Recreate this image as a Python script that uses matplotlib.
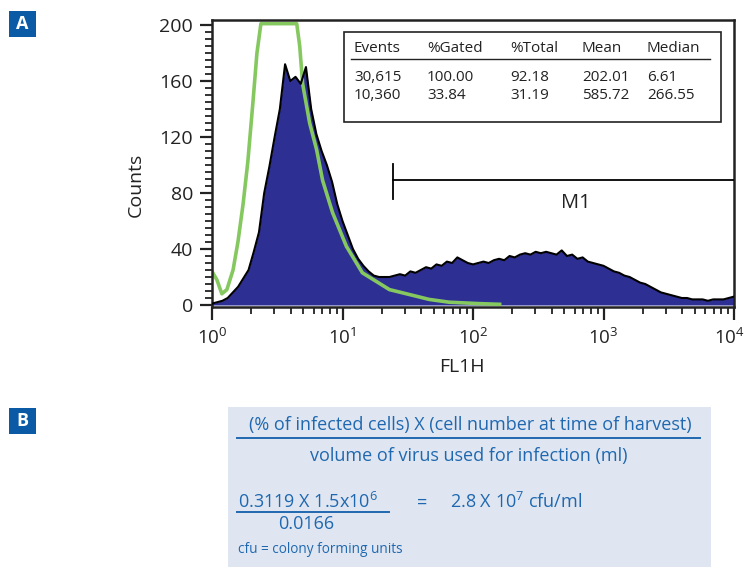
import numpy as np
import matplotlib.pyplot as plt
from matplotlib.patches import Rectangle
from matplotlib.lines import Line2D
from matplotlib.ticker import LogLocator, MultipleLocator
from matplotlib.transforms import ScaledTranslation

plt.rcParams['font.family'] = ['Open Sans', 'DejaVu Sans']
plt.rcParams['mathtext.fontset'] = 'custom'
plt.rcParams['mathtext.rm'] = 'Open Sans'
plt.rcParams['mathtext.it'] = 'Open Sans:italic'
plt.rcParams['mathtext.bf'] = 'Open Sans:bold'
plt.rcParams['mathtext.default'] = 'regular'

# infected cells, FL1H histogram (25 channels per decade, 10^0 .. 10^4)
infected_counts = [
    1, 2, 3, 5, 9, 13, 19, 25, 38, 52,
    80, 99, 120, 140, 172, 160, 163, 158, 170, 140,
    122, 110, 100, 88, 72, 60, 50, 40, 33, 28,
    24, 21, 20, 20, 20, 21, 22, 21, 24, 23,
    25, 27, 26, 29, 28, 31, 30, 34, 32, 30,
    29, 30, 31, 30, 32, 33, 32, 35, 34, 36,
    37, 36, 38, 37, 38, 37, 36, 39, 35, 36,
    33, 34, 31, 30, 29, 28, 26, 24, 23, 21,
    20, 18, 16, 15, 13, 11, 9, 8, 7, 6,
    5, 5, 4, 4, 4, 3, 4, 4, 4, 5,
    6,
]
infected_fl1h = np.logspace(0, 4, len(infected_counts))

# uninfected control (green trace), saturates at the top of the scale
control_fl1h = [1.0, 1.09, 1.19, 1.30, 1.45, 1.58, 1.73, 1.88, 2.06, 2.21,
                2.37, 4.46, 4.70, 4.95, 5.60, 6.33, 7.04, 8.39, 10.7, 14.2,
                22.9, 34.2, 46.1, 65.6, 111, 160]
control_counts = [24, 18, 8, 11, 25, 45, 72, 102, 145, 180,
                  201, 201, 185, 158, 130, 111, 89, 66, 42, 23,
                  11, 7, 4, 2, 1, 0.5]

gate_start = 24.5
gate_level = 89
gate_name = "M1"

table_header = ["Events", "%Gated", "%Total", "Mean", "Median"]
table_rows = [["30,615", "100.00", "92.18", "202.01", "6.61"],
              ["10,360", "33.84", "31.19", "585.72", "266.55"]]

navy = '#2D2F93'
green = '#86C860'
label_blue = '#0B5AA6'
text_blue = '#1F68B0'
box_fill = '#DFE6F1'

W, H = 747, 567
fig = plt.figure(figsize=(W / 100, H / 100), dpi=100)


def fx(px):
    return px / W


def fy(py):
    return 1 - py / H


ax = fig.add_axes([fx(212), fy(306.5), fx(734) - fx(212), fy(20) - fy(306.5)])

ax.fill_between(infected_fl1h, infected_counts, color=navy, lw=0, zorder=1)
ax.plot(control_fl1h, control_counts, color=green, lw=2.6, solid_joinstyle='round', zorder=2)
ax.plot(infected_fl1h, infected_counts, color='black', lw=1.5, zorder=3)

ax.set_xscale('log')
ax.set_xlim(1, 1e4)
ax.set_ylim(-1.07, 203.6)
ax.set_xticks([1, 10, 100, 1000, 10000])
ax.xaxis.set_minor_locator(LogLocator(base=10, subs=np.arange(2, 10), numticks=10))
ax.yaxis.set_major_locator(MultipleLocator(40))
ax.yaxis.set_minor_locator(MultipleLocator(5))
ax.tick_params(which='major', direction='out', length=9, width=1.6, labelsize=13.5, colors='#222222')
ax.tick_params(which='minor', direction='out', length=5, width=1.3, color='#222222')
ax.tick_params(axis='x', which='major', pad=6.5)
ax.tick_params(axis='y', which='major', pad=4.5, labelsize=14)
ax.tick_params(top=False, right=False)
for s in ax.spines.values():
    s.set_linewidth(1.8)
    s.set_color('#222222')

# last decade label sits a little left of its tick, as in the original
last = ax.xaxis.get_major_ticks()[-1].label1
last.set_transform(last.get_transform() + ScaledTranslation(-0.045, 0, fig.dpi_scale_trans))

ax.set_xlabel("FL1H", fontsize=14, color='#222222')
ax.xaxis.set_label_coords(0.479, -0.18)
ax.set_ylabel("Counts", fontsize=14, color='#222222')
ax.yaxis.set_label_coords(-0.146, 0.423)
ax.yaxis.label.set_verticalalignment('center')

# M1 gate marker
ax.plot([gate_start, gate_start], [76, 101], color='black', lw=1.3, zorder=4)
ax.plot([gate_start, 1e4], [gate_level, gate_level], color='black', lw=1.3, zorder=4)
ax.text(611, 73, gate_name, fontsize=14.5, ha='center', va='center', color='#222222', zorder=4)

# statistics table
ax.add_patch(Rectangle((0.2529, 0.644), 0.7221, 0.314, transform=ax.transAxes,
                       facecolor='white', edgecolor='#222222', lw=1.2, zorder=5))
col_x = [0.272, 0.4119, 0.5709, 0.7088, 0.8333]
for cx, h in zip(col_x, table_header):
    ax.text(cx, 0.902, h, transform=ax.transAxes, fontsize=11, va='center', color='#222222', zorder=6)
ax.plot([0.2663, 0.954], [0.864, 0.864], transform=ax.transAxes, color='#222222', lw=1.0, zorder=6)
for ry, row in zip([0.801, 0.735], table_rows):
    for cx, v in zip(col_x, row):
        ax.text(cx, ry, v, transform=ax.transAxes, fontsize=11, va='center', color='#222222', zorder=6)

# panel letters
for letter, top in [("A", 11), ("B", 408)]:
    fig.add_artist(Rectangle((fx(9), fy(top + 26)), fx(27), 26 / H, transform=fig.transFigure,
                             facecolor=label_blue, edgecolor='none'))
    fig.text(fx(22.5), fy(top + 13), letter, color='white', fontsize=13, fontweight='bold',
             ha='center', va='center')

# panel B: titre calculation
fs = 13
fig.add_artist(Rectangle((fx(228), fy(567)), fx(711) - fx(228), 160 / H, transform=fig.transFigure,
                         facecolor=box_fill, edgecolor='none'))
fig.text(fx(470), fy(425), "(% of infected cells) X (cell number at time of harvest)",
         color=text_blue, fontsize=fs, ha='center', va='center')
fig.add_artist(Line2D([fx(237), fx(700)], [fy(438), fy(438)], transform=fig.transFigure,
                      color=text_blue, lw=1.4))
fig.text(fx(468.5), fy(456.5), "volume of virus used for infection (ml)",
         color=text_blue, fontsize=fs, ha='center', va='center')
fig.text(fx(238), fy(508), r"0.3119 X 1.5x10$^{6}$", color=text_blue, fontsize=fs,
         ha='left', va='baseline')
fig.add_artist(Line2D([fx(237), fx(389)], [fy(512), fy(512)], transform=fig.transFigure,
                      color=text_blue, lw=1.4))
fig.text(fx(306.5), fy(529), "0.0166", color=text_blue, fontsize=fs, ha='center', va='baseline')
fig.text(fx(422), fy(508), "=", color=text_blue, fontsize=fs, ha='center', va='baseline')
fig.text(fx(450), fy(508), r"2.8 X 10$^{7}$ cfu/ml", color=text_blue, fontsize=fs,
         ha='left', va='baseline')
fig.text(fx(238), fy(553), "cfu = colony forming units", color=text_blue, fontsize=9.8,
         ha='left', va='baseline')

fig.savefig("out.png", dpi=100)
